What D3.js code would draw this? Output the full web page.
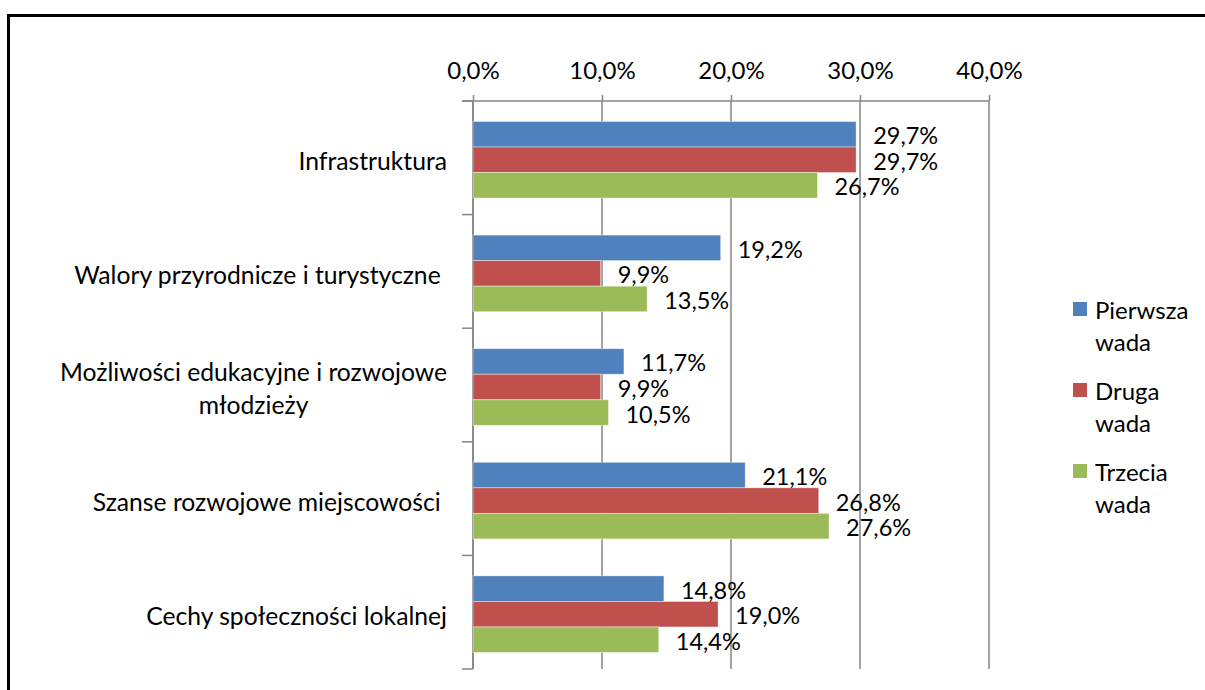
<!DOCTYPE html>
<html>
<head>
<meta charset="utf-8">
<script src="https://cdn.jsdelivr.net/npm/d3@7"></script>
<style>
  html, body { margin: 0; padding: 0; background: #fff; }
  svg { display: block; }
  text { font-family: Lato, "Open Sans", sans-serif; fill: #000; }
</style>
</head>
<body>
<svg id="chart" width="1205" height="690"></svg>
<script>
// Categories (top to bottom); multi-line labels are split into lines
const categories = [
  "Infrastruktura",
  "Walory przyrodnicze i turystyczne ",
  "Możliwości edukacyjne i rozwojowe\nmłodzieży",
  "Szanse rozwojowe miejscowości ",
  "Cechy społeczności lokalnej"
];

// Series names (legend) and values in percent
const seriesNames = ["Pierwsza\nwada", "Druga\nwada", "Trzecia\nwada"];
const pierwsza = [29.7, 19.2, 11.7, 21.1, 14.8];
const druga    = [29.7,  9.9,  9.9, 26.8, 19.0];
const trzecia  = [26.7, 13.5, 10.5, 27.6, 14.4];
const seriesValues = [pierwsza, druga, trzecia];
const seriesColors = ["#4F81BD", "#C0504D", "#9BBB59"];

// Axis ticks
const tickValues = [0, 10, 20, 30, 40];

const fmt = v => d3.format(".1f")(v).replace(".", ",") + "%";

const svg = d3.select("#chart");

// Outer frame
svg.append("rect")
  .attr("x", 8.5).attr("y", 15.5)
  .attr("width", 1210).attr("height", 700)
  .attr("fill", "none").attr("stroke", "#000").attr("stroke-width", 3);

const plotLeft = 473, plotRight = 989, plotTop = 101, plotBottom = 669;

const x = d3.scaleLinear().domain([0, 40]).range([plotLeft, plotRight]);
const y = d3.scaleBand().domain(categories).range([plotTop, plotBottom]).padding(0);
const yInner = d3.scaleBand().domain(d3.range(3)).range([20.5, y.bandwidth() - 16.5]).padding(0);

const gridColor = "#868686";

// Vertical gridlines
svg.append("g").selectAll("line").data(tickValues).join("line")
  .attr("x1", d => x(d)).attr("x2", d => x(d))
  .attr("y1", plotTop).attr("y2", plotBottom)
  .attr("stroke", gridColor).attr("stroke-width", 1.5);

// Top value axis
const xAxis = d3.axisTop(x).tickValues(tickValues).tickSize(6).tickPadding(16)
  .tickFormat(d => fmt(d));
const gx = svg.append("g").attr("transform", `translate(0,${plotTop})`).call(xAxis);
gx.select(".domain").remove();
gx.selectAll(".tick line").attr("stroke", gridColor).attr("stroke-width", 1.5);
gx.selectAll(".tick text").attr("font-size", 24).attr("font-family", "Lato").attr("fill", "#000");
svg.append("line")
  .attr("x1", plotLeft - 11).attr("x2", plotRight)
  .attr("y1", plotTop).attr("y2", plotTop)
  .attr("stroke", gridColor).attr("stroke-width", 1.5);

// Category axis line with boundary ticks
svg.append("line")
  .attr("x1", plotLeft).attr("x2", plotLeft)
  .attr("y1", plotTop).attr("y2", plotBottom)
  .attr("stroke", gridColor).attr("stroke-width", 1.5);
const boundaries = categories.map(c => y(c)).concat([plotBottom]);
svg.append("g").selectAll("line").data(boundaries).join("line")
  .attr("x1", plotLeft - 11).attr("x2", plotLeft)
  .attr("y1", d => d).attr("y2", d => d)
  .attr("stroke", gridColor).attr("stroke-width", 1.5);

// Bars
const barData = [];
categories.forEach((c, i) => {
  seriesValues.forEach((vals, s) => barData.push({ cat: c, s, v: vals[i] }));
});

svg.append("g").selectAll("rect").data(barData).join("rect")
  .attr("x", x(0))
  .attr("y", d => y(d.cat) + yInner(d.s))
  .attr("width", d => x(d.v) - x(0))
  .attr("height", yInner.bandwidth())
  .attr("fill", d => seriesColors[d.s])
  .attr("stroke", "#fff").attr("stroke-opacity", 0.5).attr("stroke-width", 0.8);

// Data labels
svg.append("g").selectAll("text").data(barData).join("text")
  .attr("x", d => x(d.v) + 17)
  .attr("y", d => y(d.cat) + yInner(d.s) + yInner.bandwidth() / 2 + 1)
  .attr("dominant-baseline", "central")
  .attr("font-size", 23.5)
  .text(d => fmt(d.v));

// Category labels (right aligned block, lines centred on each other)
const labelRight = 447, lineGap = 33;
categories.forEach(c => {
  const lines = c.split("\n");
  const cy = y(c) + y.bandwidth() / 2 + 3;
  const g = svg.append("g");
  const texts = lines.map((ln, k) => g.append("text")
    .attr("y", cy + (k - (lines.length - 1) / 2) * lineGap)
    .attr("dominant-baseline", "central")
    .attr("font-size", 24.7)
    .style("white-space", "pre")
    .text(ln));
  const widths = texts.map(t => t.node().getComputedTextLength());
  const maxW = d3.max(widths);
  const center = labelRight - maxW / 2;
  texts.forEach(t => t.attr("x", center).attr("text-anchor", "middle"));
});

// Legend
const legendX = 1073, legendY0 = 309, legendStep = 81;
seriesNames.forEach((name, s) => {
  const cy = legendY0 + s * legendStep;
  svg.append("rect")
    .attr("x", legendX).attr("y", cy - 7)
    .attr("width", 14).attr("height", 14)
    .attr("fill", seriesColors[s]);
  name.split("\n").forEach((ln, k) => {
    svg.append("text")
      .attr("x", legendX + 22)
      .attr("y", cy + k * 32)
      .attr("dominant-baseline", "central")
      .attr("font-size", 24)
      .text(ln);
  });
});
</script>
</body>
</html>
